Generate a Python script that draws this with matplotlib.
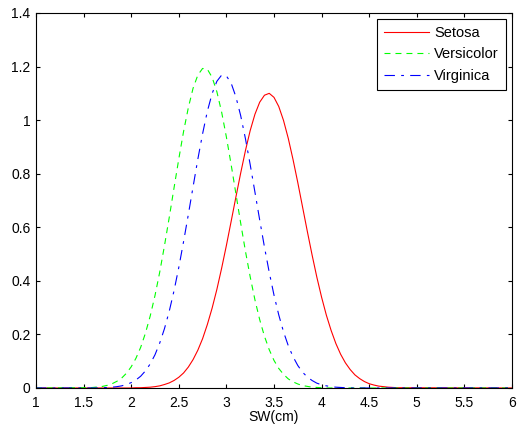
import matplotlib.pyplot as plt
import numpy as np

plt.rcParams["font.family"] = ["Liberation Sans", "DejaVu Sans"]
plt.rcParams["lines.scale_dashes"] = False

# sample grid of sepal width (cm), plus the axis ends
sw_grid = np.round(np.arange(1.50, 4.801, 0.05), 2)
x_left, x_right = 1.0, 6.0

# densities, one value per grid point
setosa = [
    0, 0, 0, 0, 0, 0, 0, 0, 0, 0,
    0.000, 0.001, 0.001, 0.002, 0.003, 0.005, 0.008, 0.013, 0.019, 0.028,
    0.040, 0.056, 0.078, 0.106, 0.141, 0.184, 0.237, 0.298, 0.368, 0.447,
    0.532, 0.622, 0.713, 0.802, 0.886, 0.961, 1.022, 1.067, 1.093, 1.100,
    1.085, 1.051, 0.999, 0.932, 0.853, 0.767, 0.676, 0.585, 0.497, 0.414,
    0.339, 0.272, 0.215, 0.166, 0.126, 0.094, 0.069, 0.049, 0.035, 0.024,
    0.016, 0.011, 0.007, 0.005, 0.003, 0.002, 0.001,
]
versicolor = [
    0.001, 0.001, 0.002, 0.004, 0.006, 0.010, 0.016, 0.025, 0.037, 0.055,
    0.079, 0.111, 0.152, 0.205, 0.269, 0.345, 0.433, 0.532, 0.637, 0.747,
    0.855, 0.957, 1.046, 1.119, 1.168, 1.193, 1.190, 1.160, 1.106, 1.030,
    0.937, 0.834, 0.725, 0.616, 0.511, 0.415, 0.329, 0.255, 0.193, 0.143,
    0.103, 0.073, 0.051, 0.034, 0.023, 0.015, 0.009, 0.006, 0.003, 0.002,
    0.001, 0, 0, 0, 0, 0, 0, 0, 0, 0,
    0, 0, 0, 0, 0, 0, 0,
]
virginica = [
    0, 0, 0, 0, 0.001, 0.002, 0.003, 0.005, 0.008, 0.013,
    0.020, 0.030, 0.044, 0.064, 0.090, 0.124, 0.168, 0.222, 0.287, 0.363,
    0.450, 0.546, 0.647, 0.751, 0.854, 0.949, 1.033, 1.099, 1.145, 1.168,
    1.165, 1.138, 1.087, 1.017, 0.931, 0.834, 0.731, 0.627, 0.526, 0.432,
    0.347, 0.273, 0.210, 0.158, 0.117, 0.084, 0.059, 0.041, 0.028, 0.018,
    0.012, 0.008, 0.005, 0.003, 0.002, 0.001, 0, 0, 0, 0,
    0, 0, 0, 0, 0, 0, 0,
]
labels = ["Setosa", "Versicolor", "Virginica"]

x_ticks = [1, 1.5, 2, 2.5, 3, 3.5, 4, 4.5, 5, 5.5, 6]
x_tick_labels = ["1", "1.5", "2", "2.5", "3", "3.5", "4", "4.5", "5", "5.5", "6"]
y_ticks = [0, 0.2, 0.4, 0.6, 0.8, 1, 1.2, 1.4]
y_tick_labels = ["0", "0.2", "0.4", "0.6", "0.8", "1", "1.2", "1.4"]


def full(values):
    xs = np.concatenate([[x_left], sw_grid, [x_right]])
    ys = np.concatenate([[0], values, [0]])
    return xs, ys


fig = plt.figure(figsize=(5.17, 4.30), dpi=100)
ax = fig.add_axes([0.0696, 0.0977, 0.9207, 0.8721])

styles = [
    dict(color="#ff0000", linestyle="-"),
    dict(color="#00ff00", linestyle=(0, (4.3, 3.6))),
    dict(color="#0000ff", linestyle=(0, (7.5, 4.5, 2, 4.5))),
]
for vals, lab, st in zip([setosa, versicolor, virginica], labels, styles):
    xs, ys = full(vals)
    ax.plot(xs, ys, linewidth=0.8, label=lab, **st)

ax.set_xlim(1, 6)
ax.set_ylim(0, 1.4)
ax.set_xticks(x_ticks)
ax.set_xticklabels(x_tick_labels)
ax.set_yticks(y_ticks)
ax.set_yticklabels(y_tick_labels)
ax.tick_params(direction="in", top=True, right=True, length=3,
               labelsize=10, pad=4)
ax.tick_params(axis="x", pad=5.5)
for sp in ax.spines.values():
    sp.set_linewidth(0.8)

ax.set_xlabel("SW(cm)", fontsize=10, labelpad=0)

leg = ax.legend(loc="upper right", fontsize=10.5, handlelength=3.1,
                handletextpad=0.35, fancybox=False, framealpha=1,
                edgecolor="black", borderaxespad=0.4, labelspacing=0.5,
                borderpad=0.5)
leg.get_frame().set_linewidth(0.8)

fig.savefig("out.png", dpi=100)
